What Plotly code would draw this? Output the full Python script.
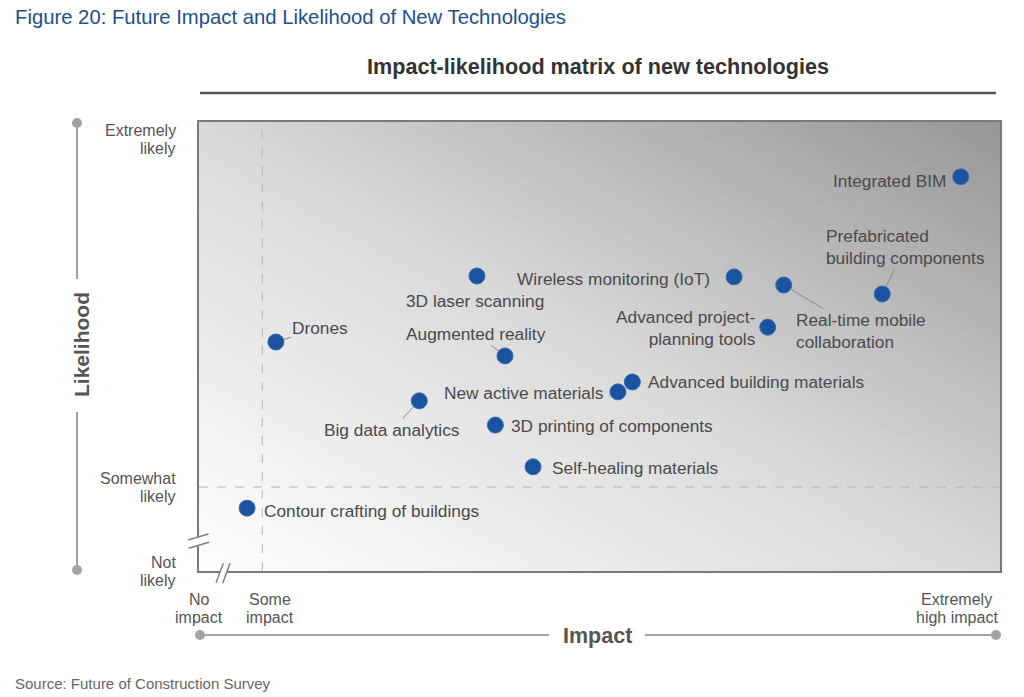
import base64
import plotly.graph_objects as go

# ---------------- data ----------------
technologies = [
    "Integrated BIM",
    "Prefabricated<br>building components",
    "Wireless monitoring (IoT)",
    "Real-time mobile<br>collaboration",
    "Advanced project-<br>planning tools",
    "3D laser scanning",
    "Drones",
    "Augmented reality",
    "Advanced building materials",
    "New active materials",
    "Big data analytics",
    "3D printing of components",
    "Self-healing materials",
    "Contour crafting of buildings",
]
impact = [95.1, 85.3, 66.8, 73.0, 71.0, 34.7, 9.6, 38.2, 54.1, 52.3, 27.5, 37.0, 41.7, 6.0]
likelihood = [87.8, 61.7, 65.5, 63.7, 54.3, 65.7, 51.0, 47.9, 42.1, 39.9, 37.9, 32.5, 23.2, 14.0]

impact_tick_vals = [0, 8.9, 94.6]
impact_tick_text = ["No<br>impact", "Some<br>impact", "Extremely<br>high impact"]
likelihood_tick_vals = [0, 18.7, 96.0]
likelihood_tick_text = ["Not<br>likely", "Somewhat<br>likely", "Extremely<br>likely"]

some_impact_level = 7.9
somewhat_likely_level = 18.7

# ---------------- label placement (style) ----------------
label_style = [
    dict(kind="side", xanchor="right", xshift=-13, yshift=-4),
    dict(kind="arrow", ax=23.5, ay=-47, align="left"),
    dict(kind="side", xanchor="right", xshift=-22, yshift=-2),
    dict(kind="arrow", ax=77, ay=46, align="left"),
    dict(kind="side", xanchor="right", xshift=-10, yshift=-1, align="right"),
    dict(kind="side", xanchor="center", xshift=-2, yshift=-25),
    dict(kind="arrow", ax=44.5, ay=-14),
    dict(kind="arrow", ax=-29, ay=-22),
    dict(kind="side", xanchor="left", xshift=14, yshift=0),
    dict(kind="side", xanchor="right", xshift=-12, yshift=-1),
    dict(kind="arrow", ax=-27.5, ay=29),
    dict(kind="side", xanchor="left", xshift=14, yshift=-1),
    dict(kind="side", xanchor="left", xshift=17, yshift=-1),
    dict(kind="side", xanchor="left", xshift=15, yshift=-3),
]

FONT = "Liberation Sans, Arial, sans-serif"
LABEL_COLOR = "#4a4a4a"
TICK_COLOR = "#555555"
AXIS_GREY = "#a3a3a3"
TICK_LINE = 18

W, H = 1024, 697
PL, PT, PW, PH = 199, 122, 801, 449


def px(x):
    return (x - PL) / PW


def py(y):
    return (PT + PH - y) / PH


fig = go.Figure()
fig.add_trace(go.Scatter(
    x=impact, y=likelihood, mode="markers",
    marker=dict(size=16, color="#1a54a0", line=dict(width=1, color="#3a6cae")),
    hoverinfo="text", text=technologies, showlegend=False, cliponaxis=False,
))

annotations = []
for name, xv, yv, st in zip(technologies, impact, likelihood, label_style):
    base = dict(x=xv, y=yv, xref="x", yref="y", text=name,
                font=dict(family=FONT, size=17.3, color=LABEL_COLOR),
                align=st.get("align", "left"))
    if st["kind"] == "side":
        base.update(showarrow=False, xanchor=st["xanchor"], yanchor="middle",
                    xshift=st["xshift"], yshift=st["yshift"])
    else:
        base.update(showarrow=True, arrowhead=0, arrowwidth=1, arrowcolor="#8a8a8a",
                    ax=st["ax"], ay=st["ay"], standoff=8)
    annotations.append(base)

# tick labels (each line placed separately for tight line spacing)
for v, t in zip(impact_tick_vals, impact_tick_text):
    for i, line in enumerate(t.split("<br>")):
        annotations.append(dict(x=v, y=py(589), xref="x", yref="paper", text=line,
                                showarrow=False, xanchor="center", yanchor="top",
                                yshift=-i * TICK_LINE,
                                font=dict(family=FONT, size=16, color=TICK_COLOR)))
for v, t in zip(likelihood_tick_vals, likelihood_tick_text):
    lines = t.split("<br>")
    n = len(lines)
    for i, line in enumerate(lines):
        annotations.append(dict(x=px(178), y=v, xref="paper", yref="y", text=line,
                                showarrow=False, xanchor="right", yanchor="middle",
                                yshift=-(i - (n - 1) / 2) * TICK_LINE,
                                font=dict(family=FONT, size=16, color=TICK_COLOR)))

# titles
annotations += [
    dict(x=px(13), y=py(17), xref="paper", yref="paper", showarrow=False,
         xanchor="left", yanchor="middle",
         text="Figure 20: Future Impact and Likelihood of New Technologies",
         font=dict(family=FONT, size=20.3, color="#1d4f8f")),
    dict(x=px(598), y=py(67), xref="paper", yref="paper", showarrow=False,
         xanchor="center", yanchor="middle",
         text="<b>Impact-likelihood matrix of new technologies</b>",
         font=dict(family=FONT, size=21.6, color="#333333")),
    dict(x=px(597), y=py(636), xref="paper", yref="paper", showarrow=False,
         xanchor="center", yanchor="middle", text="<b>Impact</b>",
         font=dict(family=FONT, size=21.5, color="#555555")),
    dict(x=px(81), y=py(345), xref="paper", yref="paper", showarrow=False,
         xanchor="center", yanchor="middle", text="<b>Likelihood</b>", textangle=-90,
         font=dict(family=FONT, size=21, color="#555555")),
    dict(x=px(13), y=py(683), xref="paper", yref="paper", showarrow=False,
         xanchor="left", yanchor="middle", text="Source: Future of Construction Survey",
         font=dict(family=FONT, size=15, color="#666666")),
]


def pline(x0, y0, x1, y1, color, width, layer="above"):
    return dict(type="line", xref="paper", yref="paper",
                x0=px(x0), y0=py(y0), x1=px(x1), y1=py(y1),
                line=dict(color=color, width=width), layer=layer)


def pdot(cx, cy, r, color):
    return dict(type="circle", xref="paper", yref="paper",
                x0=px(cx - r), x1=px(cx + r), y0=py(cy + r), y1=py(cy - r),
                fillcolor=color, line=dict(width=0), layer="above")


def ppoly(pts, fill):
    path = "M " + " L ".join(f"{px(a):.5f},{py(b):.5f}" for a, b in pts) + " Z"
    return dict(type="path", xref="paper", yref="paper", path=path,
                fillcolor=fill, line=dict(width=0), layer="above")


shapes = [
    # dashed reference levels
    dict(type="line", xref="x", yref="paper", x0=some_impact_level, x1=some_impact_level,
         y0=0, y1=1, line=dict(color="#b5b5b5", width=1, dash="dash"), layer="below"),
    dict(type="line", xref="paper", yref="y", x0=0, x1=1, y0=somewhat_likely_level,
         y1=somewhat_likely_level, line=dict(color="#b5b5b5", width=1, dash="dash"), layer="below"),
    # title underline
    pline(200, 93, 996, 93, "#555555", 2.5),
    # likelihood arrow line
    pline(77, 123, 77, 279, AXIS_GREY, 2),
    pline(77, 412, 77, 570, AXIS_GREY, 2),
    pdot(77, 123, 5, AXIS_GREY),
    pdot(77, 570, 5, AXIS_GREY),
    # impact arrow line
    pline(200, 635, 549, 635, AXIS_GREY, 2),
    pline(645, 635, 996, 635, AXIS_GREY, 2),
    pdot(200, 635, 5, AXIS_GREY),
    pdot(996, 635, 5, AXIS_GREY),
    # axis breaks
    ppoly([(188, 540), (208.5, 534), (209, 542.3), (188.5, 548.3)], "white"),
    pline(188, 540, 208.5, 534, "#808080", 1.5),
    pline(188.5, 548.3, 209, 542.3, "#808080", 1.5),
    ppoly([(216, 582.7), (223.3, 563.3), (230, 563.3), (222.7, 583.3)], "white"),
    pline(216, 582.7, 223.3, 563.3, "#808080", 1.5),
    pline(222.7, 583.3, 230, 563.3, "#808080", 1.5),
]

svg = (
    "<svg xmlns='http://www.w3.org/2000/svg' width='801' height='449' preserveAspectRatio='none'>"
    "<defs><linearGradient id='g' x1='0' y1='1' x2='1' y2='0'>"
    "<stop offset='0' stop-color='#ffffff'/>"
    "<stop offset='0.5' stop-color='#d9d9d9'/>"
    "<stop offset='1' stop-color='#969696'/>"
    "</linearGradient></defs>"
    "<rect width='801' height='449' fill='url(#g)'/></svg>"
)
bg_src = "data:image/svg+xml;base64," + base64.b64encode(svg.encode()).decode()

fig.update_layout(
    width=W, height=H,
    margin=dict(l=PL, r=W - PL - PW, t=PT, b=H - PT - PH, pad=0),
    paper_bgcolor="white", plot_bgcolor="rgba(0,0,0,0)",
    showlegend=False,
    annotations=annotations,
    shapes=shapes,
    images=[dict(source=bg_src, xref="paper", yref="paper", x=0, y=1, sizex=1, sizey=1,
                 xanchor="left", yanchor="top", sizing="stretch", layer="below")],
    xaxis=dict(range=[0, 100], showgrid=False, zeroline=False, showticklabels=False,
               ticks="", showline=True, mirror=True, linecolor="#7a7a7a", linewidth=2,
               fixedrange=True),
    yaxis=dict(range=[0, 100], showgrid=False, zeroline=False, showticklabels=False,
               ticks="", showline=True, mirror=True, linecolor="#7a7a7a", linewidth=2,
               fixedrange=True),
)

fig.write_html("out.html", config={"displayModeBar": False})
